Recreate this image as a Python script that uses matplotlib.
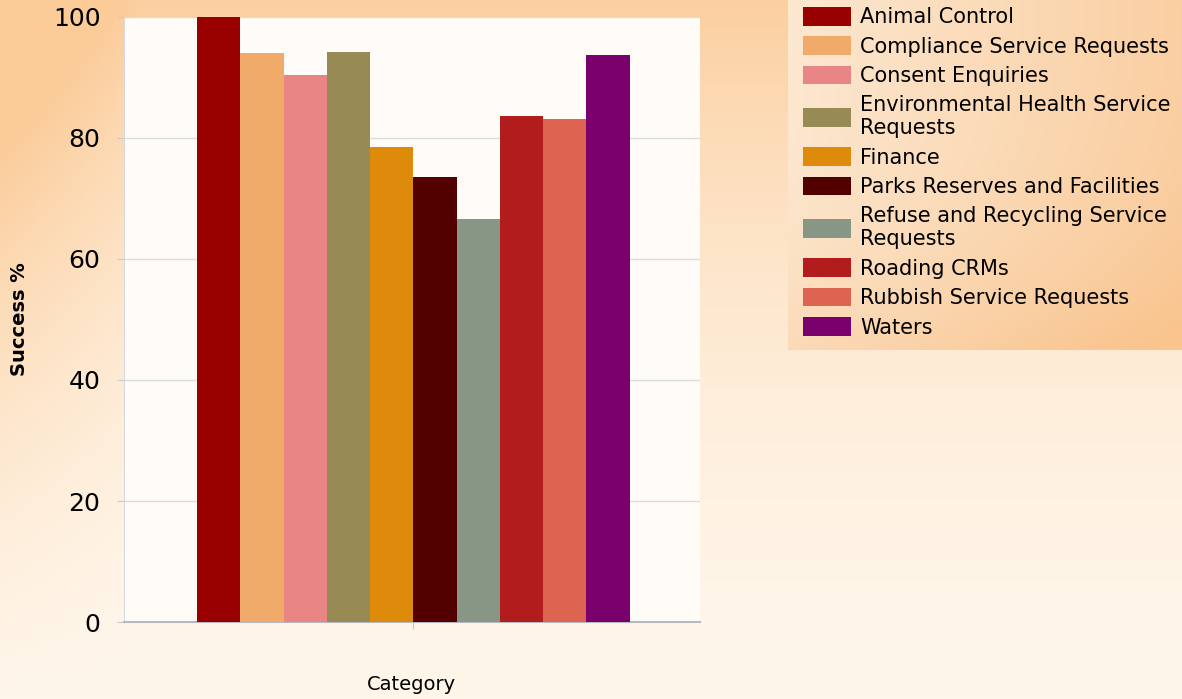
import numpy as np
import matplotlib.pyplot as plt
from matplotlib.colors import to_rgb

categorias = ["Animal Control", "Compliance Service Requests", "Consent Enquiries",
              "Environmental Health Service\nRequests", "Finance",
              "Parks Reserves and Facilities", "Refuse and Recycling Service\nRequests",
              "Roading CRMs", "Rubbish Service Requests", "Waters"]
valores = [100, 94.0, 90.4, 94.2, 78.5, 73.5, 66.6, 83.6, 83.1, 93.7]
colores = ["#990000", "#f0ab6a", "#ea8585", "#978a55", "#de8a0a",
           "#520000", "#879685", "#b31c1c", "#dd6450", "#7a006e"]

fig = plt.figure(figsize=(11.82, 6.99), dpi=100)

# fondo degradado
bg = fig.add_axes([0, 0, 1, 1], zorder=-10)
h, w = 200, 340
yy, xx = np.mgrid[0:1:h * 1j, 0:1:w * 1j]
naranja = np.array(to_rgb("#fbcb98"))
crema = np.array(to_rgb("#fff6ea"))
peso = np.clip(0.9 * (1 - yy) ** 1.8 + 0.5 * np.clip(0.12 - xx, 0, 1) / 0.12 * (1 - yy), 0, 1)
img = crema + (naranja - crema) * peso[..., None]
bg.imshow(img, extent=[0, 1, 0, 1], aspect="auto", origin="upper")

# caja de la leyenda
gx = np.linspace(0, 1, 200)[None, :] * np.ones((50, 1))
gy = np.linspace(0, 1, 50)[:, None] * np.ones((1, 200))
peso2 = np.clip(0.2 + 0.55 * gx + 0.3 * gy ** 3, 0, 1)
img2 = np.array(to_rgb("#fdf0e0")) + (np.array(to_rgb("#f9c48e")) - np.array(to_rgb("#fdf0e0"))) * peso2[..., None]
bg.imshow(img2, extent=[788 / 1182, 1, 1 - 350 / 699, 1], aspect="auto", origin="upper")
bg.set_xlim(0, 1)
bg.set_ylim(0, 1)
bg.axis("off")

ax = fig.add_axes([0.105, 0.110, 0.487, 0.866])
ax.set_facecolor("#fffcf7")
x = np.arange(len(valores))
barras = ax.bar(x, valores, width=1.0, color=colores, label=categorias, zorder=3)

ax.set_xlim(-2.19, 11.12)
ax.set_ylim(0, 100)
ax.set_yticks([0, 20, 40, 60, 80, 100])
ax.set_xticks([4.5])
ax.set_xticklabels([""])
ax.tick_params(axis="y", labelsize=18, length=5, color="#c8c8c8", pad=12)
ax.tick_params(axis="x", length=5, color="#c8c8c8")
ax.grid(axis="y", color="#dcdcdc", linewidth=1, zorder=0)
for lado in ["top", "right"]:
    ax.spines[lado].set_visible(False)
ax.spines["left"].set_color("#d8d8e0")
ax.spines["bottom"].set_color("#b8b8c0")
ax.spines["bottom"].set_linewidth(1.5)

ax.set_ylabel("Success %", fontsize=14, fontweight="bold")
ax.yaxis.set_label_coords(-0.165, 0.5)
ax.set_xlabel("Category", fontsize=14)
ax.xaxis.set_label_coords(0.5, -0.087)

leg = fig.legend(loc="upper left", bbox_to_anchor=(0.665, 1.014), fontsize=15,
                 handlelength=2.3, handleheight=1.0, labelspacing=0.43,
                 handletextpad=0.45, frameon=False, borderpad=0.3)

fig.savefig("out.png", dpi=100)
